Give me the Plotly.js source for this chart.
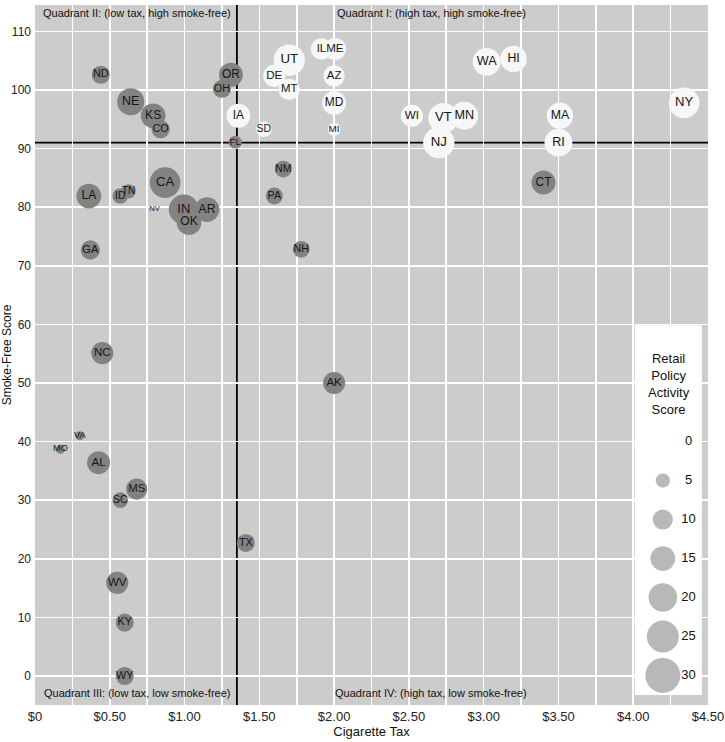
<!DOCTYPE html>
<html><head><meta charset="utf-8">
<script src="https://cdn.plot.ly/plotly-3.0.1.min.js"></script>
<style>html,body{margin:0;padding:0;background:#fff;}#chart{width:725px;height:742px;}</style>
</head><body><div id="chart"></div>
<script>
// ---- data ----
const states = ["AL","AK","AZ","AR","CA","CO","CT","DE","FL","GA","HI","ID","IL","IN","IA","KS","KY","LA","ME","MD","MA","MI","MN","MS","MO","MT","NE","NV","NH","NJ","NM","NY","NC","ND","OH","OK","OR","PA","RI","SC","SD","TN","TX","UT","VT","VA","WA","WV","WI","WY"];
const cigaretteTax = [0.425,2.00,2.00,1.15,0.87,0.84,3.40,1.60,1.339,0.37,3.20,0.57,1.915,0.995,1.36,0.79,0.60,0.36,2.005,2.00,3.51,2.00,2.87,0.68,0.17,1.70,0.64,0.80,1.78,2.70,1.66,4.34,0.45,0.44,1.25,1.03,1.31,1.60,3.50,0.57,1.53,0.625,1.41,1.70,2.73,0.30,3.02,0.55,2.52,0.60];
const smokeFreeScore = [36.4,50.0,102.4,79.6,84.2,93.3,84.2,102.4,91.1,72.7,105.3,81.9,107.0,79.6,95.6,95.6,9.1,81.9,107.0,97.8,95.6,93.3,95.6,31.9,38.7,100.1,98.0,79.6,72.8,91.0,86.5,97.8,55.1,102.6,100.2,77.4,102.6,81.9,91.0,30.0,93.3,82.7,22.7,105.1,95.2,41.0,104.8,15.9,95.6,0.0];
const retailScore = [13,12,11,15,23,8,14,12,4,9,17,6,11,22,14,15,8,15,12,14,17,4,19,11,2,11,18,0,7,24,7,23,12,8,8,15,14,7,19,6,6,5,8,24,22,2,19,12,12,8];
const legendValues = [0,5,10,15,20,25,30];
const xTickVals = [0,0.5,1,1.5,2,2.5,3,3.5,4,4.5];
const xTickText = ["$0","$0.50","$1.00","$1.50","$2.00","$2.50","$3.00","$3.50","$4.00","$4.50"];
const yTickVals = [0,10,20,30,40,50,60,70,80,90,100,110];
const taxThreshold = 1.35;
const smokeThreshold = 91;
const quadrantLabels = ["Quadrant II: (low tax, high smoke-free)","Quadrant I: (high tax, high smoke-free)","Quadrant III: (low tax, low smoke-free)","Quadrant IV: (high tax, low smoke-free)"];

// ---- styling helpers ----
const maxScore = 30, maxDiam = 35;
const diam = s => maxDiam*Math.sqrt(s/maxScore);
const txtSize = s => 7.6 + 1.15*Math.sqrt(s);
const COND = "Liberation Sans Narrow, Arial Narrow, sans-serif";

const hi = states.map((s,i)=> cigaretteTax[i]>=taxThreshold && smokeFreeScore[i]>=smokeThreshold);
function subset(flag){
  const idx = states.map((_,i)=>i).filter(i=>hi[i]===flag);
  return {x: idx.map(i=>cigaretteTax[i]), y: idx.map(i=>smokeFreeScore[i]), s: idx.map(i=>diam(retailScore[i])), t: idx.map(i=>states[i])};
}
const g = subset(false), w = subset(true);

// legend placement (axis coords)
const legX = 4.198, legLabX = 4.37, legTop = 40, legStep = 6.65;
const legY = legendValues.map((v,i)=> legTop - legStep*i);

const traces = [
  {type:'scatter', mode:'markers', x:g.x, y:g.y, text:g.t, hoverinfo:'text',
   marker:{size:g.s, sizemode:'diameter', color:'#828282', line:{width:0}, opacity:1}},
  {type:'scatter', mode:'markers', x:w.x, y:w.y, text:w.t, hoverinfo:'text',
   marker:{size:w.s, sizemode:'diameter', color:'#f7f7f7', line:{width:0}, opacity:1}},
  {type:'scatter', mode:'text', x:cigaretteTax, y:smokeFreeScore, text:states, hoverinfo:'skip',
   textposition:'middle center', textfont:{family:COND, size:retailScore.map(txtSize), color:'#151515'}},
  {type:'scatter', mode:'markers', x:legendValues.map(()=>legX), y:legY, hoverinfo:'skip',
   marker:{size:legendValues.map(diam), sizemode:'diameter', color:'#9a9a9a', line:{width:0}}},
  {type:'scatter', mode:'text', x:legendValues.map(()=>legLabX), y:legY, text:legendValues.map(String), hoverinfo:'skip',
   textposition:'middle center', textfont:{family:"Liberation Sans, Arial, sans-serif", size:13, color:'#111'}}
];

const layout = {
  width:725, height:742, showlegend:false,
  margin:{l:35, r:17, t:5, b:37, pad:0},
  paper_bgcolor:'#ffffff', plot_bgcolor:'#cccccc',
  xaxis:{range:[0,4.5], tickvals:xTickVals, ticktext:xTickText, showgrid:true, gridcolor:'#ffffff', gridwidth:1.6,
    minor:{dtick:0.25, tick0:0, showgrid:true, gridcolor:'#ffffff', gridwidth:1.6},
    zeroline:false, showline:false, ticks:'', ticklabelstandoff:2,
    tickfont:{family:"Liberation Sans, Arial, sans-serif", size:13, color:'#222'},
    title:{text:'Cigarette Tax', font:{family:COND, size:13, color:'#111'}, standoff:2}},
  yaxis:{range:[-4.95,114.5], tickvals:yTickVals, showgrid:true, gridcolor:'#ffffff', gridwidth:1.6,
    zeroline:false, showline:false, ticks:'', ticklabelstandoff:3,
    tickfont:{family:"Liberation Sans, Arial, sans-serif", size:12, color:'#222'},
    title:{text:'Smoke-Free Score', font:{family:COND, size:12, color:'#111'}, standoff:2}},
  shapes:[
    {type:'rect', xref:'x', yref:'y', x0:4.01, x1:4.459, y0:-3.24, y1:59.86, fillcolor:'#ffffff', line:{width:0}, layer:'below'},
    {type:'line', xref:'x', yref:'paper', x0:taxThreshold, x1:taxThreshold, y0:0, y1:1, line:{color:'#000', width:1.8}, layer:'below'},
    {type:'line', xref:'paper', yref:'y', x0:0, x1:1, y0:smokeThreshold, y1:smokeThreshold, line:{color:'#000', width:1.8}, layer:'below'}
  ],
  annotations:[
    {xref:'x', yref:'y', x:0.68, y:113.2, text:quadrantLabels[0], showarrow:false, font:{family:COND, size:11, color:'#111'}},
    {xref:'x', yref:'y', x:2.65, y:113.2, text:quadrantLabels[1], showarrow:false, font:{family:COND, size:11, color:'#111'}},
    {xref:'x', yref:'y', x:0.68, y:-2.9, text:quadrantLabels[2], showarrow:false, font:{family:COND, size:11, color:'#111'}},
    {xref:'x', yref:'y', x:2.65, y:-2.9, text:quadrantLabels[3], showarrow:false, font:{family:COND, size:11, color:'#111'}},
    {xref:'x', yref:'y', x:4.24, y:49.8, text:'Retail<br>Policy<br>Activity<br>Score', showarrow:false, align:'center',
     font:{family:COND, size:13, color:'#111'}}
  ]
};
Plotly.newPlot('chart', traces, layout, {displayModeBar:false, staticPlot:true});
</script></body></html>
